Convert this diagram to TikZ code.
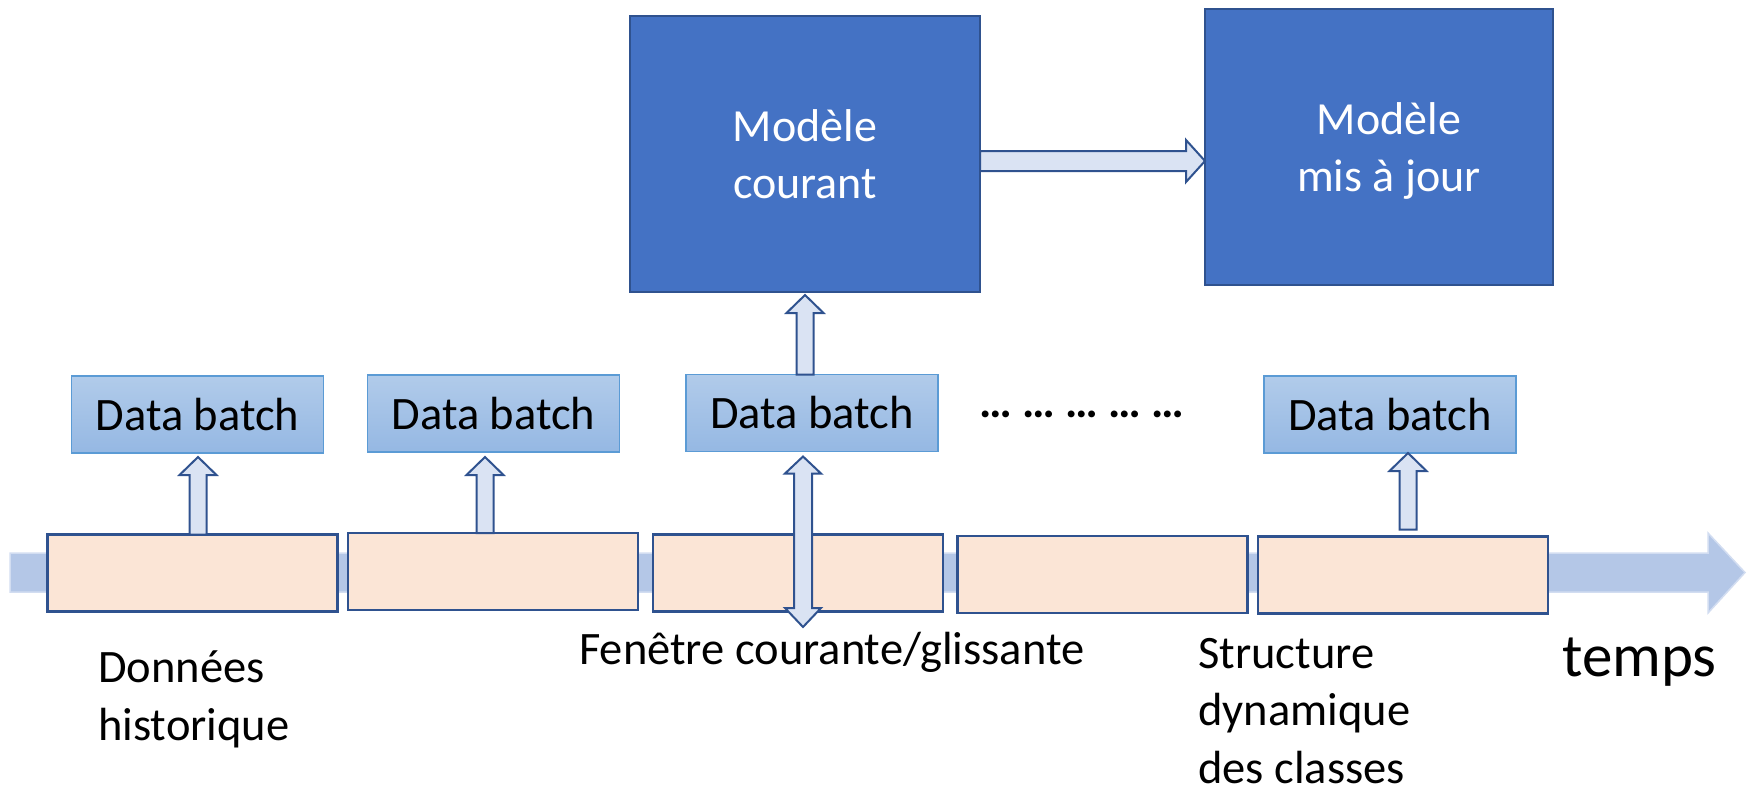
\documentclass[tikz,border=0pt]{standalone}
\usepackage{fontspec}
\setmainfont{Carlito}
\usetikzlibrary{calc}

\definecolor{modelblue}{HTML}{4472C4}
\definecolor{darkedge}{HTML}{2F528F}
\definecolor{arrowfill}{HTML}{DAE3F3}
\definecolor{peach}{HTML}{FBE5D6}
\definecolor{batchtop}{HTML}{B1CBEA}
\definecolor{batchbot}{HTML}{95B8E3}
\definecolor{batchedge}{HTML}{5B9BD5}
\definecolor{timebar}{HTML}{B4C7E7}
\definecolor{timeedge}{HTML}{D2DDF1}

\tikzset{
  winbox/.style={draw=darkedge, fill=peach, line width=2.2pt,
    minimum width=290pt, minimum height=77pt, inner sep=0pt, outer sep=0pt},
  batchbox/.style={draw=batchedge, line width=1.2pt, top color=batchtop, bottom color=batchbot,
    minimum width=252pt, minimum height=77pt, inner sep=0pt, outer sep=0pt,
    font=\fontsize{46.5}{56}\selectfont},
  modelbox/.style={draw=darkedge, fill=modelblue, line width=2.4pt,
    minimum height=276pt, inner sep=0pt, outer sep=0pt, text=white, align=center,
    font=\fontsize{46}{57}\selectfont},
  blockarrow/.style={draw=darkedge, fill=arrowfill, line width=2pt, line join=miter},
  lbl/.style={font=\fontsize{46.5}{57.5}\selectfont, inner sep=0pt, align=left},
}

% vertical block arrow: #1 = x position, #2 = start point, #3 = tip point
\newcommand{\upblock}[3]{%
  \draw[blockarrow] let \p1=#2, \p2=#3 in
    ({#1pt-8.5pt},\y1) -- ({#1pt-8.5pt},{\y2-18pt}) -- ({#1pt-18.5pt},{\y2-18pt})
    -- (#1pt,\y2) -- ({#1pt+18.5pt},{\y2-18pt}) -- ({#1pt+8.5pt},{\y2-18pt})
    -- ({#1pt+8.5pt},\y1) -- cycle;}

\begin{document}
\begin{tikzpicture}[x=1pt,y=-1pt]
\useasboundingbox (0,0) rectangle (1752,790);

% time axis
\draw[fill=timebar, draw=timeedge, line width=1.5pt]
  (10,553) -- (1708,553) -- (1708,533) -- (1745,572.5) -- (1708,613) -- (1708,592) -- (10,592) -- cycle;

% windows on the time axis
\node[winbox] (w1) at (192.5,573) {};
\node[winbox] (w2) at (493,571.5) {};
\node[winbox] (w3) at (798,573) {};
\node[winbox] (w4) at (1102.5,574.5) {};
\node[winbox] (w5) at (1403,575) {};

% data batches
\node[batchbox] (d1) at (197.5,414.5) {Data batch};
\node[batchbox] (d2) at (493.5,413.5) {Data batch};
\node[batchbox] (d3) at (812,413) {Data batch};
\node[batchbox] (d5) at (1390,414.5) {Data batch};
\node[anchor=base west, inner sep=0pt, font=\fontsize{46}{56}\selectfont\bfseries] (dots) at (979,417) {… … … … …};

% models
\node[modelbox, minimum width=350pt] (mc) at (805,154) {Modèle\\courant};
\node[modelbox, minimum width=348pt, text depth=0pt] (mmj) at (1379,147)
  {\hspace*{20pt}Modèle\\\hspace*{20pt}mis à jour};

% batch arrows
\upblock{198}{(w1.north)}{([yshift=-4pt]d1.south)}
\upblock{485}{(w2.north)}{([yshift=-5pt]d2.south)}
\upblock{1408}{([yshift=7pt]w5.north)}{(d5.south)}
\upblock{805}{(d3.north)}{([yshift=-3pt]mc.south)}

% sliding window arrow through the current window
\coordinate (wbot) at (803,627);
\draw[blockarrow] let \p1=([yshift=-5pt]d3.south), \p2=(wbot) in
  (803pt,\y1) -- (821pt,{\y1-17pt}) -- (812pt,{\y1-17pt}) -- (812pt,{\y2+19pt})
  -- (821pt,{\y2+19pt}) -- (803pt,\y2) -- (785pt,{\y2+19pt}) -- (794pt,{\y2+19pt})
  -- (794pt,{\y1-17pt}) -- (785pt,{\y1-17pt}) -- cycle;

% model update arrow
\draw[blockarrow] let \p1=([yshift=-7pt]mc.east), \p2=(mmj.west) in
  (\x1,{\y1+10pt}) -- ({\x2-19pt},{\y1+10pt}) -- ({\x2-19pt},{\y1+21pt}) -- (\x2,\y1)
  -- ({\x2-19pt},{\y1-21pt}) -- ({\x2-19pt},{\y1-10pt}) -- (\x1,{\y1-10pt}) -- cycle;

% labels (base = baseline of the last line)
\node[lbl, anchor=base west] (hist) at (98,740) {Données\\historique};
\node[lbl, anchor=base west] (slide) at (579,664) {Fenêtre courante/glissante};
\node[lbl, anchor=base west] (dyn) at (1198,783) {Structure\\dynamique\\des classes};
\node[anchor=base west, inner sep=0pt, font=\fontsize{61}{70}\selectfont] (temps) at (1562,676) {temps};
\end{tikzpicture}
\end{document}
